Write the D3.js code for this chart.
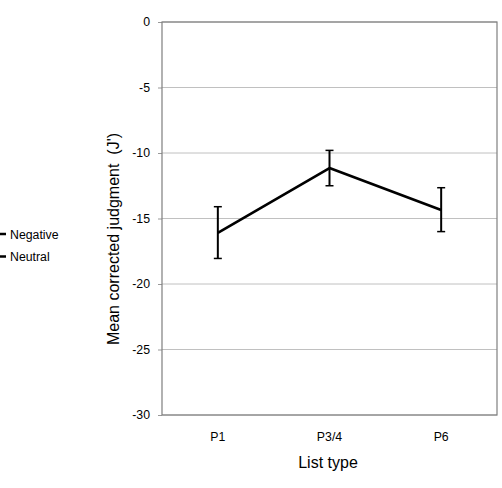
<!DOCTYPE html>
<html><head><meta charset="utf-8">
<script src="https://cdn.jsdelivr.net/npm/d3@7"></script>
<style>body{margin:0;background:#fff}svg{display:block}text{font-family:"Liberation Sans",Arial,sans-serif}</style>
</head><body><svg id="c" width="502" height="488"></svg>
<script>
const categories = ["P1", "P3/4", "P6"];
const meanValues = [-16.1, -11.15, -14.35];
const errTop = [-14.1, -9.8, -12.65];
const errBottom = [-18.05, -12.5, -16.0];
const yTicks = [0, -5, -10, -15, -20, -25, -30];
const legendLabels = ["Negative", "Neutral"];

const svg = d3.select("#c");
const L = 162, R = 497, T = 22, B = 415;
const x = d3.scaleBand().domain(categories).range([L, R]);
const y = d3.scaleLinear().domain([-30, 0]).range([B, T]);
const FS = 12.3;

// gridlines
svg.append("g").selectAll("line").data(yTicks).join("line")
  .attr("x1", L).attr("x2", R).attr("y1", d => y(d)).attr("y2", d => y(d))
  .attr("stroke", "#c0c0c0").attr("stroke-width", 1);

// y axis
const ya = svg.append("g").attr("transform", `translate(${L},0)`)
  .call(d3.axisLeft(y).tickValues(yTicks).tickSize(4).tickPadding(8).tickFormat(d => String(d)));
ya.select(".domain").remove();
ya.selectAll("line").attr("stroke", "#999");
ya.selectAll("text").attr("font-size", FS).attr("fill", "#000").attr("font-family", "Liberation Sans, Arial, sans-serif");

// x axis
const xa = svg.append("g").attr("transform", `translate(0,${B})`)
  .call(d3.axisBottom(x).tickSize(0).tickPadding(17));
xa.select(".domain").remove();
xa.selectAll("text").attr("font-size", FS).attr("fill", "#000").attr("font-family", "Liberation Sans, Arial, sans-serif");

// border
svg.append("rect").attr("x", L).attr("y", T).attr("width", R - L).attr("height", B - T)
  .attr("fill", "none").attr("stroke", "#7f7f7f").attr("stroke-width", 1.2);

const cx = d => x(d) + x.bandwidth() / 2;
const pts = categories.map((c, i) => ({c, v: meanValues[i], t: errTop[i], b: errBottom[i]}));

// error bars
const eb = svg.append("g").attr("stroke", "#000").attr("stroke-width", 1.5);
pts.forEach(p => {
  eb.append("line").attr("x1", cx(p.c)).attr("x2", cx(p.c)).attr("y1", y(p.t)).attr("y2", y(p.b)).attr("stroke-width", 2);
  eb.append("line").attr("x1", cx(p.c) - 4).attr("x2", cx(p.c) + 4).attr("y1", y(p.t)).attr("y2", y(p.t));
  eb.append("line").attr("x1", cx(p.c) - 4).attr("x2", cx(p.c) + 4).attr("y1", y(p.b)).attr("y2", y(p.b));
});

// line
svg.append("path").datum(pts)
  .attr("d", d3.line().x(d => cx(d.c)).y(d => y(d.v)))
  .attr("fill", "none").attr("stroke", "#000").attr("stroke-width", 2.6).attr("stroke-linejoin", "round");

// legend
legendLabels.forEach((lab, i) => {
  const ly = 234 + i * 22.5;
  svg.append("line").attr("x1", 0).attr("x2", 6).attr("y1", ly).attr("y2", ly).attr("stroke", "#000").attr("stroke-width", 2.5);
  svg.append("text").attr("x", 10).attr("y", ly + 4.5).attr("font-size", FS).text(lab);
});

// axis titles
svg.append("text").attr("x", 328).attr("y", 468).attr("text-anchor", "middle").attr("font-size", 16).text("List type");
svg.append("text").attr("transform", "translate(119,239) rotate(-90)").attr("text-anchor", "middle")
  .attr("font-size", 16).attr("xml:space", "preserve").text("Mean corrected judgment  (J')");
</script></body></html>
